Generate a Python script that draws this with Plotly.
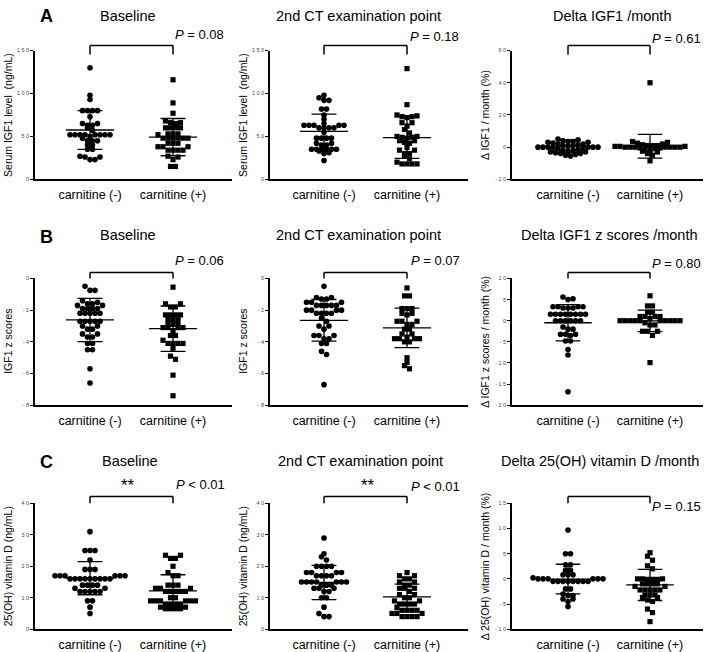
import plotly.graph_objects as go

W, H = 709, 652
categories = ["carnitine (-)", "carnitine (+)"]

# ---------------- data ----------------
# Row A: serum IGF1 (ng/mL)
igf1_base_neg = [130, 98, 93, 80, 80, 80, 80, 73, 65, 65, 63, 63, 60, 57, 52, 52, 52, 52, 52, 52, 52, 52,
                 50, 48, 45, 45, 45, 40, 40, 35, 35, 27, 26, 26, 23, 23]
igf1_base_pos = [116, 89, 77, 68, 66, 66, 65, 60, 60, 60, 60, 53, 53, 53, 52, 48, 48, 48, 48, 48, 48,
                 42, 42, 42, 38, 38, 38, 34, 34, 34, 34, 27, 26, 23, 15, 15]
igf1_ct_neg = [98, 95, 92, 92, 82, 82, 75, 70, 65, 63, 63, 63, 63, 63, 60, 60, 60, 60, 55, 48, 48, 48, 48,
               42, 42, 40, 40, 35, 35, 35, 35, 35, 35, 33, 31, 30, 22]
igf1_ct_pos = [129, 87, 75, 74, 73, 73, 72, 66, 66, 62, 58, 54, 50, 50, 49, 49, 48, 45, 45, 43, 42, 37,
               34, 34, 30, 30, 27, 24, 20, 18, 18, 18, 18]
igf1_delta_neg = [5, 4.5, 4, 3.5, 3.5, 3, 3, 2.5, 2, 2, 1.5, 1, 1, 0.5, 0, 0, 0, 0, 0, 0, -0.5, -1, -1,
                  -1.5, -2, -2, -2.5, -3, -3, -3.5, -4, -4, -4.5, -5, -5.5]
igf1_delta_pos = [40, 3.5, 3, 2.5, 2, 1.5, 1, 1, 1, 0.5, 0.5, 0.5, 0, 0, 0, 0, 0, 0, 0, -0.5, -0.5, -1, -1,
                  -2, -2.5, -3, -4, -5, -8.5]

# Row B: IGF1 z scores
z_base_neg = [-0.5, -0.75, -0.75, -1.4, -1.5, -1.6, -1.6, -1.7, -1.7, -1.9, -1.9, -1.9, -1.9, -2.2, -2.2,
              -2.2, -2.2, -2.2, -2.7, -2.7, -2.7, -2.7, -2.7, -3.0, -3.0, -3.2, -3.2, -3.5, -3.5, -3.7,
              -3.7, -4.1, -4.1, -4.5, -4.5, -5.7, -6.6]
z_base_pos = [-0.55, -1.6, -1.6, -1.8, -1.8, -2.3, -2.3, -2.3, -2.3, -2.6, -2.6, -2.6, -2.9, -2.9, -2.9,
              -3.1, -3.1, -3.1, -3.1, -3.3, -3.6, -3.6, -3.9, -4.1, -4.1, -4.1, -4.1, -4.4, -4.9, -5.1,
              -6.1, -7.4]
z_ct_neg = [-0.5, -1.2, -1.2, -1.3, -1.3, -1.5, -1.5, -1.5, -1.7, -1.7, -1.7, -1.7, -1.7, -2.0, -2.0, -2.0,
            -2.0, -2.2, -2.2, -2.2, -2.2, -2.5, -2.7, -3.0, -3.0, -3.2, -3.6, -3.6, -3.6, -3.8, -3.8, -4.1,
            -4.1, -4.6, -4.8, -6.7]
z_ct_pos = [-0.6, -1.1, -1.1, -1.9, -1.9, -1.9, -2.2, -2.2, -2.3, -2.7, -2.7, -2.7, -2.9, -2.9, -3.2, -3.2,
            -3.5, -3.5, -3.7, -3.8, -3.8, -3.8, -3.8, -4.0, -4.0, -5.0, -5.3, -5.5, -5.7]
z_delta_neg = [5.6, 5.2, 5.0, 3.3, 3.3, 3.3, 3.3, 3.0, 3.0, 3.0, 1.5, 1.5, 1.5, 1.5, 1.5, 1.5, 1.5, 1.5,
               0, 0, 0, 0, 0, 0, -1.5, -2, -2, -3.2, -3.2, -3.2, -3.5, -4.8, -4.8, -6.8, -8.1, -16.8]
z_delta_pos = [5.9, 3.5, 3.5, 2.0, 2.0, 1.0, 1.0, 1.0, 1.0, 0.5, 0, 0, 0, 0, 0, 0, 0, 0, 0, 0, -0.5, -1.0,
               -1.0, -2.5, -2.5, -2.5, -3.5, -9.9]

# Row C: 25(OH) vitamin D
vd_base_neg = [31, 25, 25, 25, 22, 19, 19, 19, 17, 17, 17, 17, 17, 17, 16, 16, 16, 16, 16, 16, 16, 16, 16,
               14, 14, 14, 14, 13, 13, 12, 12, 12, 12, 12, 9, 9, 7, 5]
vd_base_pos = [23.5, 23.5, 22.5, 22.5, 20, 18, 17, 17, 14, 14, 14, 13, 13, 13, 12, 12, 12, 12, 12, 10, 10,
               9, 9, 9, 9, 9, 9, 8, 8, 8, 8, 7, 7, 6.5, 6.5, 6.5, 6.5]
vd_ct_neg = [29, 24, 23, 22, 20, 20, 20, 20, 18, 18, 18, 18, 17, 17, 17, 17, 15, 15, 15, 15, 15, 15, 15,
             14, 14, 14, 13, 13, 13, 12, 12, 10, 10, 7, 5, 4, 4]
vd_ct_pos = [18, 17, 17, 16, 16, 15, 15, 14, 14, 13, 13, 13, 12, 11, 11, 10, 10, 9, 9, 8, 8, 8, 8, 7, 6, 6,
             6, 6, 5, 5, 5, 4, 4, 4, 4]
vd_delta_neg = [9.7, 5, 5, 2.8, 2.8, 1.7, 1.7, 0.8, 0.8, 0.8, 0.2, 0, 0, 0, 0, 0, 0, -0.5, -0.5, -0.5, -0.5,
                -0.5, -0.5, -0.5, -0.5, -2, -2, -3, -3.3, -3.3, -4, -4, -4.5, -5.5]
vd_delta_pos = [5.2, 4.5, 3.7, 2.6, 2.0, 0, 0, 0, -0.1, -0.1, -0.1, -1, -1, -1, -1, -1.5, -1.5, -2.2, -2.2,
                -2.2, -2.2, -2.2, -3.2, -3.2, -3.2, -3.7, -3.7, -4.2, -4.5, -6, -6.7, -8.5]

# mean and SD of each group as drawn: [neg, pos]
means = [[57.5, 49.2], [55.8, 48.7], [0.5, 0.6],
         [-2.62, -3.17], [-2.64, -3.12], [-0.48, -0.05],
         [16.2, 12.2], [14.85, 10.25], [-0.05, -1.2]]
sds = [[22.5, 21.7], [20.2, 24.3], [4.0, 7.4],
       [1.36, 1.43], [1.31, 1.25], [4.3, 2.55],
       [5.25, 5.1], [5.45, 4.05], [2.95, 3.1]]

groups = [[igf1_base_neg, igf1_base_pos], [igf1_ct_neg, igf1_ct_pos], [igf1_delta_neg, igf1_delta_pos],
          [z_base_neg, z_base_pos], [z_ct_neg, z_ct_pos], [z_delta_neg, z_delta_pos],
          [vd_base_neg, vd_base_pos], [vd_ct_neg, vd_ct_pos], [vd_delta_neg, vd_delta_pos]]

titles = ["Baseline", "2nd CT examination point", "Delta IGF1 /month",
          "Baseline", "2nd CT examination point", "Delta IGF1 z scores /month",
          "Baseline", "2nd CT examination point", "Delta 25(OH) vitamin D /month"]
ylabels = ["Serum IGF1 level  (ng/mL)", "Serum IGF1 level  (ng/mL)", "Δ IGF1 / month (%)",
           "IGF1 z scores", "IGF1 z scores", "Δ IGF1 z scores / month (%)",
           "25(OH) vitamin D (ng/mL)", "25(OH) vitamin D (ng/mL)", "Δ 25(OH) vitamin D / month (%)"]
pvalues = ["= 0.08", "= 0.18", "= 0.61", "= 0.06", "= 0.07", "= 0.80", "< 0.01", "< 0.01", "= 0.15"]
stars = ["", "", "", "", "", "", "**", "**", ""]
panel_letters = ["A", "B", "C"]

yranges = [[0, 150], [0, 150], [-20, 60], [-8, 0], [-8, 0], [-20, 10], [0, 40], [0, 40], [-10, 15]]
yticks = [[0, 50, 100, 150], [0, 50, 100, 150], [-20, 0, 20, 40, 60],
          [-8, -6, -4, -2, 0], [-8, -6, -4, -2, 0], [-20, -15, -10, -5, 0, 5, 10],
          [0, 10, 20, 30, 40], [0, 10, 20, 30, 40], [-10, -5, 0, 5, 10, 15]]

# ---------------- layout geometry (pixels) ----------------
col_px = [(35, 232), (270, 468), (512, 703)]
cat_px = [(90, 173), (324, 407), (568, 650)]
row_px = [(48, 178), (278, 406), (505, 632)]
title_cx = [[128, 358, 612], [128, 358, 609], [130, 360, 600]]
title_cy = [13, 234, 462]
letter_pos = [(46, 13), (47, 236), (46, 463)]
ylab_x = [8, 243, 485]
p_pos = [[(226, 32), (461, 34), (703, 36)],
         [(226, 260), (462, 260), (703, 263)],
         [(227, 486), (462, 488), (703, 508)]]
star_pos = [(128, 487), (368, 487)]
bracket_px = [(43, 52), (272, 278), (498, 505)]


def px(x):
    return x / W


def py(y):
    return 1 - y / H


def swarm(vals, ypu, xpu, binh, step):
    """Prism-like scatter: points falling into the same vertical bin are laid out side by side,
    lowest value in the centre, higher values outward."""
    order = sorted(range(len(vals)), key=lambda i: vals[i])
    bins = []
    for i in order:
        if bins and (vals[i] - vals[bins[-1][0]]) * ypu < binh:
            bins[-1].append(i)
        else:
            bins.append([i])
    xs = [0.0] * len(vals)
    for bn in bins:
        n = len(bn)
        slots = sorted([(j - (n - 1) / 2) for j in range(n)], key=lambda s: (abs(s), -s))
        for idx, s in zip(bn, slots):
            xs[idx] = s * step / xpu
    return xs


FONT = "Arial, Liberation Sans, sans-serif"
fig = go.Figure()
layout = dict(width=W, height=H, margin=dict(l=0, r=0, t=0, b=0), plot_bgcolor="white",
              paper_bgcolor="white", showlegend=False, font=dict(family=FONT, color="black"))
annotations = []
shapes = []

for k in range(9):
    r, c = divmod(k, 3)
    n = k + 1
    xa = "x" if n == 1 else f"x{n}"
    ya = "y" if n == 1 else f"y{n}"
    d0, d1 = col_px[c]
    c0, c1 = cat_px[c]
    unit = c1 - c0
    xr = [(d0 - c0) / unit, (d1 - c0) / unit]
    t, b = row_px[r]
    lo, hi = yranges[k]
    ypu = (b - t) / (hi - lo)

    layout["xaxis" if n == 1 else f"xaxis{n}"] = dict(
        domain=[px(d0), px(d1)], range=xr, anchor=ya, showline=True, linecolor="black", linewidth=1.5,
        ticks="", tickvals=[0, 1], ticktext=categories, tickfont=dict(size=12.5, color="black", family=FONT),
        showgrid=False, zeroline=False, ticklabelstandoff=3)
    layout["yaxis" if n == 1 else f"yaxis{n}"] = dict(
        domain=[py(b), py(t)], range=[lo, hi], anchor=xa, showline=True, linecolor="black", linewidth=1.5,
        ticks="outside", ticklen=3, tickwidth=1, tickcolor="black", tickvals=yticks[k],
        ticktext=[" ".join(str(v)) for v in yticks[k]], tickfont=dict(size=5.5, color="#444", family=FONT),
        showgrid=False, zeroline=False)

    for g, vals in enumerate(groups[k]):
        offs = swarm(vals, ypu, unit, 4.3, 5.0)
        fig.add_trace(go.Scatter(
            x=[g + o for o in offs], y=vals, mode="markers", xaxis=xa, yaxis=ya, cliponaxis=False,
            marker=dict(symbol="circle" if g == 0 else "square", size=5.6 if g == 0 else 5.2,
                        color="black", line=dict(width=0))))
    for g in range(2):
        m, s = means[k][g], sds[k][g]
        wm, wc = 0.29, 0.15
        fig.add_trace(go.Scatter(
            x=[g - wm, g + wm, None, g, g, None, g - wc, g + wc, None, g - wc, g + wc],
            y=[m, m, None, m - s, m + s, None, m + s, m + s, None, m - s, m - s],
            mode="lines", xaxis=xa, yaxis=ya, cliponaxis=False,
            line=dict(color="black", width=1.3)))

    # bracket
    bt, bb = bracket_px[r]
    for (x0, x1, y0, y1) in [(0, 1, bt, bt), (0, 0, bt, bb), (1, 1, bt, bb)]:
        shapes.append(dict(type="line", xref=xa, yref="paper", x0=x0, x1=x1, y0=py(y0), y1=py(y1),
                           line=dict(color="black", width=1.5)))

    # title
    annotations.append(dict(text=titles[k], x=px(title_cx[r][c]), y=py(title_cy[r]), xref="paper",
                            yref="paper", showarrow=False, xanchor="center", yanchor="middle",
                            font=dict(size=14.5, family=FONT, color="black")))
    # y label
    annotations.append(dict(text=ylabels[k], x=px(ylab_x[c]), y=py((t + b) / 2), xref="paper", yref="paper",
                            showarrow=False, textangle=-90, xanchor="center", yanchor="middle",
                            font=dict(size=10.5, family=FONT, color="black")))
    # p value
    pxx, pyy = p_pos[r][c]
    annotations.append(dict(text="<i>P</i> " + pvalues[k], x=px(pxx), y=py(pyy), xref="paper", yref="paper",
                            showarrow=False, xanchor="right", yanchor="middle",
                            font=dict(size=13, family=FONT, color="black")))
    if stars[k]:
        sx, sy = star_pos[c]
        annotations.append(dict(text=stars[k], x=px(sx), y=py(sy), xref="paper", yref="paper",
                                showarrow=False, xanchor="center", yanchor="middle",
                                font=dict(size=17, family=FONT, color="black")))

for i, letter in enumerate(panel_letters):
    lx, ly = letter_pos[i]
    annotations.append(dict(text="<b>" + letter + "</b>", x=px(lx), y=py(ly), xref="paper", yref="paper",
                            showarrow=False, xanchor="center", yanchor="middle",
                            font=dict(size=18, family=FONT, color="black")))

layout["annotations"] = annotations
layout["shapes"] = shapes
fig.update_layout(**layout)
fig.write_html("out.html", post_script="document.body.style.margin='0';",
               config={"displayModeBar": False})
